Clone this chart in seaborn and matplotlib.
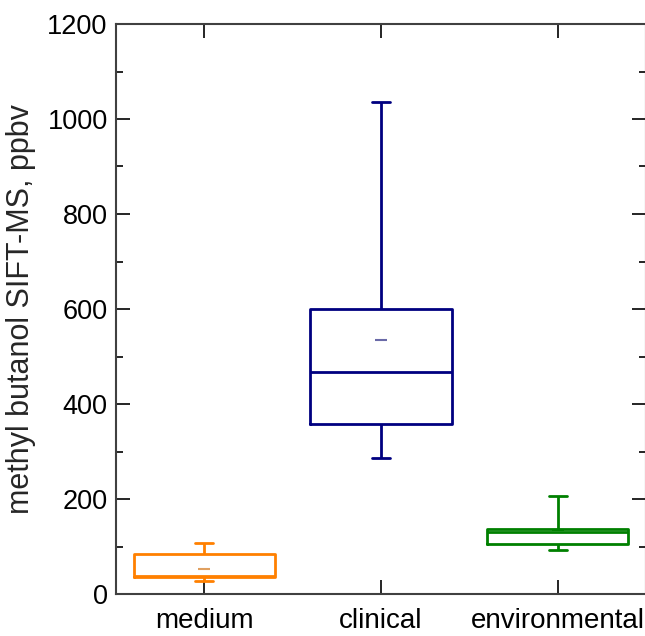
import pandas as pd
import seaborn as sns
import matplotlib.pyplot as plt
from matplotlib.ticker import MultipleLocator

# five-number summaries (min, q1, median, q3, max)
groups = ["medium", "clinical", "environmental"]
medium = [28, 36, 37, 85, 107]
clinical = [286, 357, 467, 599, 1036]
environmental = [92, 105, 131, 137, 206]
means = [52, 535, 134]
colors = ["#ff8000", "#000080", "#008000"]
mean_colors = ["#e0a060", "#6a6aa8", "#008000"]

df = pd.DataFrame({
    "group": [g for g, v in zip(groups, [medium, clinical, environmental]) for _ in v],
    "value": medium + clinical + environmental,
})

sns.set_style("white")
plt.rcParams["font.family"] = ["Liberation Sans", "DejaVu Sans"]

fig = plt.figure(figsize=(6.45, 6.36), dpi=100)
ax = fig.add_axes([116 / 645, 42 / 636, 530 / 645, 570 / 636])

sns.boxplot(data=df, x="group", y="value", hue="group", palette=colors,
            fill=False, whis=(0, 100), width=0.8, linewidth=2,
            capwidths=0.1, legend=False, ax=ax)
for i, (m, c) in enumerate(zip(means, mean_colors)):
    ax.plot(i, m, marker="_", color=c, markersize=8, mew=1.5)

ax.set_xlim(-0.5, 2.5)
ax.set_ylim(0, 1200)
ax.yaxis.set_major_locator(MultipleLocator(200))
ax.yaxis.set_minor_locator(MultipleLocator(100))
ax.tick_params(which="both", direction="in", top=True, right=True,
               left=True, bottom=True, colors="black")
ax.tick_params(which="major", length=10, width=1.2)
ax.tick_params(which="minor", length=5, width=1.2)
ax.tick_params(axis="y", labelsize=19.5, pad=6)
ax.tick_params(axis="x", labelsize=20, pad=10)
for s in ax.spines.values():
    s.set_color("#404040")
    s.set_linewidth(1.5)
ax.set_xlabel("")
ax.set_ylabel("methyl butanol SIFT-MS, ppbv", fontsize=22, labelpad=8)

fig.savefig("out.png", dpi=100)
